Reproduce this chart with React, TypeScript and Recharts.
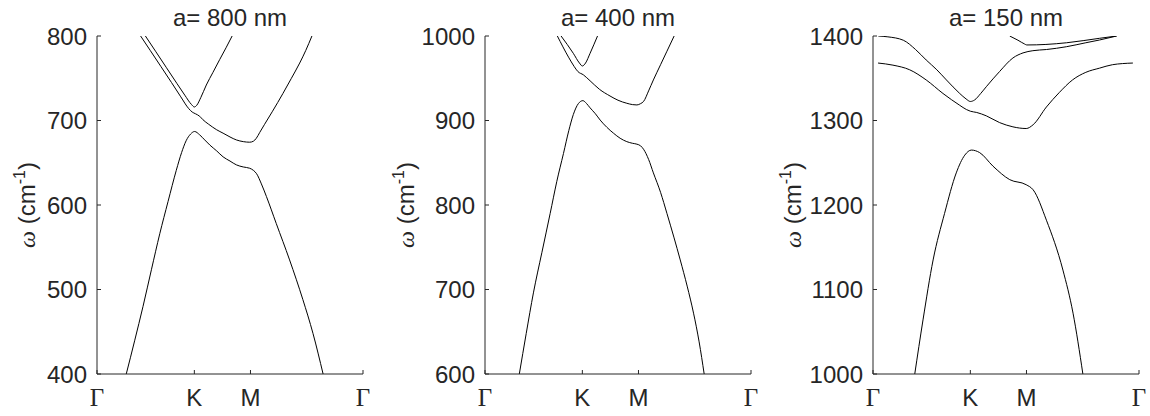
import React from 'react';
import { LineChart, Line, XAxis, YAxis } from 'recharts';

// k-path coordinate: Γ = 0 -> K -> M -> Γ = 1
const kTicks = [0, 0.366, 0.577, 1];
const kLabels = ['Γ', 'K', 'M', 'Γ'];

const yTicks800 = [400, 500, 600, 700, 800];
const yTicks400 = [600, 700, 800, 900, 1000];
const yTicks150 = [1000, 1100, 1200, 1300, 1400];

// [k, ω (cm^-1)]
const a800Band1 = [
  [0.11, 400], [0.142, 440], [0.173, 480], [0.205, 524], [0.236, 566], [0.267, 604], [0.298, 641],
  [0.318, 662], [0.335, 676], [0.352, 684], [0.367, 687], [0.386, 683], [0.405, 677], [0.424, 671],
  [0.45, 664], [0.474, 657], [0.5, 652], [0.524, 647.5], [0.55, 645], [0.574, 643.5], [0.588, 641],
  [0.6, 637], [0.618, 625], [0.637, 610], [0.674, 578], [0.724, 535], [0.774, 488], [0.812, 448],
  [0.85, 400],
];
const a800Band2 = [
  [0.164, 800], [0.2, 783], [0.24, 764], [0.28, 745], [0.315, 728], [0.345, 714], [0.358, 710],
  [0.37, 708], [0.386, 705], [0.398, 701], [0.42, 695.5], [0.45, 689], [0.474, 685], [0.5, 680.5],
  [0.524, 677], [0.55, 675], [0.574, 674.3], [0.588, 675.5], [0.599, 679], [0.612, 686], [0.63, 695.5],
  [0.66, 711], [0.699, 732], [0.73, 749.5], [0.762, 768], [0.785, 783], [0.808, 800],
];
const a800Band3 = [
  [0.182, 800], [0.22, 782], [0.26, 763], [0.3, 744], [0.33, 730], [0.355, 719], [0.366, 716],
  [0.375, 718], [0.39, 727], [0.411, 742], [0.436, 757], [0.461, 772], [0.485, 786], [0.508, 800],
];

const a400Band1 = [
  [0.129, 600], [0.155, 648], [0.182, 696], [0.214, 744], [0.245, 790], [0.27, 828], [0.295, 861],
  [0.315, 888], [0.332, 907], [0.351, 920], [0.368, 923.5], [0.382, 920], [0.395, 915], [0.415, 908],
  [0.433, 900.5], [0.458, 892], [0.483, 885], [0.508, 879], [0.533, 875], [0.555, 873], [0.571, 872],
  [0.585, 870], [0.596, 866], [0.615, 854], [0.633, 838], [0.66, 815], [0.684, 790], [0.71, 762],
  [0.734, 735], [0.76, 704], [0.784, 672], [0.805, 638], [0.824, 600],
];
const a400Band2 = [
  [0.272, 1000], [0.314, 975], [0.335, 964], [0.349, 958], [0.37, 954], [0.395, 947], [0.43, 937],
  [0.47, 929], [0.5, 924], [0.533, 920.4], [0.555, 918.8], [0.571, 918.4], [0.585, 920], [0.596, 922.5],
  [0.615, 935], [0.633, 948], [0.66, 966], [0.684, 982], [0.711, 1000],
];
const a400Band3 = [
  [0.286, 1000], [0.332, 979.5], [0.355, 968], [0.366, 964.5], [0.378, 968], [0.395, 979.5], [0.423, 1000],
];

const a150Band1 = [
  [0.157, 1000], [0.188, 1064], [0.226, 1135], [0.269, 1190], [0.313, 1238], [0.345, 1259], [0.37, 1265],
  [0.401, 1262], [0.451, 1246], [0.514, 1230], [0.576, 1224], [0.602, 1218], [0.652, 1182],
  [0.714, 1123], [0.752, 1072], [0.789, 1000],
];
const a150Band2 = [
  [0.019, 1368], [0.075, 1365.5], [0.138, 1360], [0.2, 1348], [0.263, 1332], [0.326, 1318], [0.351, 1313],
  [0.366, 1311], [0.39, 1309.5], [0.426, 1305.5], [0.476, 1297.5], [0.526, 1292.5], [0.576, 1290.5],
  [0.602, 1295], [0.652, 1316], [0.7, 1333], [0.75, 1348], [0.8, 1357], [0.852, 1362], [0.9, 1366],
  [0.977, 1368],
];
const a150Band3 = [
  [0.02, 1400], [0.056, 1399], [0.114, 1395], [0.16, 1384], [0.2, 1371.6], [0.24, 1360], [0.276, 1348],
  [0.326, 1332], [0.35, 1325.5], [0.366, 1322.5], [0.382, 1324.3], [0.405, 1332], [0.426, 1340],
  [0.476, 1358], [0.526, 1374], [0.564, 1380], [0.601, 1382.6], [0.652, 1384], [0.727, 1387.3],
  [0.8, 1392], [0.852, 1395.3], [0.916, 1400],
];
const a150Band4 = [
  [0.514, 1400], [0.545, 1395], [0.57, 1390.5], [0.578, 1389.4], [0.65, 1390], [0.728, 1392],
  [0.852, 1397.3], [0.916, 1400],
];

const toPoints = (band: number[][]) => band.map(([k, w]) => ({ k, w }));

const panels = [
  { title: 'a= 800 nm', left: 97, yTicks: yTicks800, bands: [a800Band1, a800Band2, a800Band3], labelGap: 62 },
  { title: 'a= 400 nm', left: 485, yTicks: yTicks400, bands: [a400Band1, a400Band2, a400Band3], labelGap: 71 },
  { title: 'a= 150 nm', left: 873, yTicks: yTicks150, bands: [a150Band1, a150Band2, a150Band3, a150Band4], labelGap: 72 },
];

const AXIS = '#262626';
const SANS = '"Liberation Sans", Arial, Helvetica, sans-serif';
const SERIF = '"Liberation Serif", "Times New Roman", serif';
const TICK_LEN = 4;
const PLOT_W = 266;
const Y_AXIS_W = 100;

function LeftTick({ x, y, payload }: any) {
  return (
    <g>
      <line x1={x + 10} y1={y} x2={x + 10 + TICK_LEN} y2={y} stroke={AXIS} />
      <text x={x} y={y + 8.5} textAnchor="end" fontSize={24} fill={AXIS} fontFamily={SANS}>
        {payload.value}
      </text>
    </g>
  );
}

function RightTick({ x, y }: any) {
  return <line x1={x} y1={y} x2={x - TICK_LEN} y2={y} stroke={AXIS} />;
}

function TopTick({ x, y }: any) {
  return <line x1={x} y1={y} x2={x} y2={y + TICK_LEN} stroke={AXIS} />;
}

function BottomTick({ x, y, index }: any) {
  const label = kLabels[index];
  const isGamma = label === 'Γ';
  return (
    <g>
      <line x1={x} y1={y - 32} x2={x} y2={y - 32 - TICK_LEN} stroke={AXIS} />
      <text
        x={x}
        y={y}
        textAnchor="middle"
        fontSize={isGamma ? 25 : 24}
        fill={AXIS}
        fontFamily={isGamma ? SERIF : SANS}
      >
        {label}
      </text>
    </g>
  );
}

function Panel({ panel }: any) {
  const domain = [panel.yTicks[0], panel.yTicks[panel.yTicks.length - 1]];
  return (
    <>
      <div
        style={{
          position: 'absolute',
          left: panel.left,
          top: 6,
          width: PLOT_W,
          textAlign: 'center',
          fontFamily: SANS,
          fontSize: 24,
          lineHeight: '24px',
          color: AXIS,
          whiteSpace: 'nowrap',
        }}
      >
        {panel.title}
      </div>
      <div style={{ position: 'absolute', left: panel.left - Y_AXIS_W, top: 0 }}>
        <LineChart width={Y_AXIS_W + PLOT_W + 10} height={416} margin={{ top: 36, right: 10, bottom: 0, left: 0 }}>
          <XAxis
            xAxisId="b"
            type="number"
            dataKey="k"
            domain={[0, 1]}
            ticks={kTicks}
            allowDataOverflow
            height={42}
            tickSize={0}
            tickMargin={32}
            tick={<BottomTick />}
            axisLine={{ stroke: AXIS }}
            interval={0}
          />
          <XAxis
            xAxisId="t"
            orientation="top"
            type="number"
            domain={[0, 1]}
            ticks={kTicks}
            allowDataOverflow
            height={0}
            tickSize={0}
            tickMargin={0}
            tick={<TopTick />}
            axisLine={{ stroke: AXIS }}
            interval={0}
          />
          <YAxis
            yAxisId="l"
            type="number"
            domain={domain}
            ticks={panel.yTicks}
            allowDataOverflow
            width={Y_AXIS_W}
            tickSize={0}
            tickMargin={10}
            tick={<LeftTick />}
            axisLine={{ stroke: AXIS }}
            interval={0}
            label={{
              content: (p: any) => {
                const cx = p.viewBox.x + p.viewBox.width - panel.labelGap;
                const cy = p.viewBox.y + p.viewBox.height / 2;
                return (
                  <text
                    x={cx}
                    y={cy}
                    transform={`rotate(-90, ${cx}, ${cy})`}
                    textAnchor="middle"
                    fontSize={24}
                    fill={AXIS}
                    fontFamily={SANS}
                  >
                    <tspan fontFamily={SERIF} fontStyle="italic">ω</tspan>
                    <tspan> (cm</tspan>
                    <tspan fontSize={16} dy={-10}>-1</tspan>
                    <tspan dy={10}>)</tspan>
                  </text>
                );
              },
            }}
          />
          <YAxis
            yAxisId="r"
            orientation="right"
            type="number"
            domain={domain}
            ticks={panel.yTicks}
            allowDataOverflow
            width={0}
            tickSize={0}
            tickMargin={0}
            tick={<RightTick />}
            axisLine={{ stroke: AXIS }}
            interval={0}
          />
          {panel.bands.map((band: number[][], i: number) => (
            <Line
              key={i}
              xAxisId="b"
              yAxisId="l"
              data={toPoints(band)}
              dataKey="w"
              type="monotone"
              stroke="#000"
              strokeWidth={1}
              dot={false}
              activeDot={false}
              isAnimationActive={false}
            />
          ))}
        </LineChart>
      </div>
    </>
  );
}

export default function App() {
  return (
    <div style={{ position: 'absolute', left: 0, top: 0, width: 1150, height: 416, background: '#fff' }}>
      {panels.map((p) => (
        <Panel key={p.title} panel={p} />
      ))}
    </div>
  );
}
